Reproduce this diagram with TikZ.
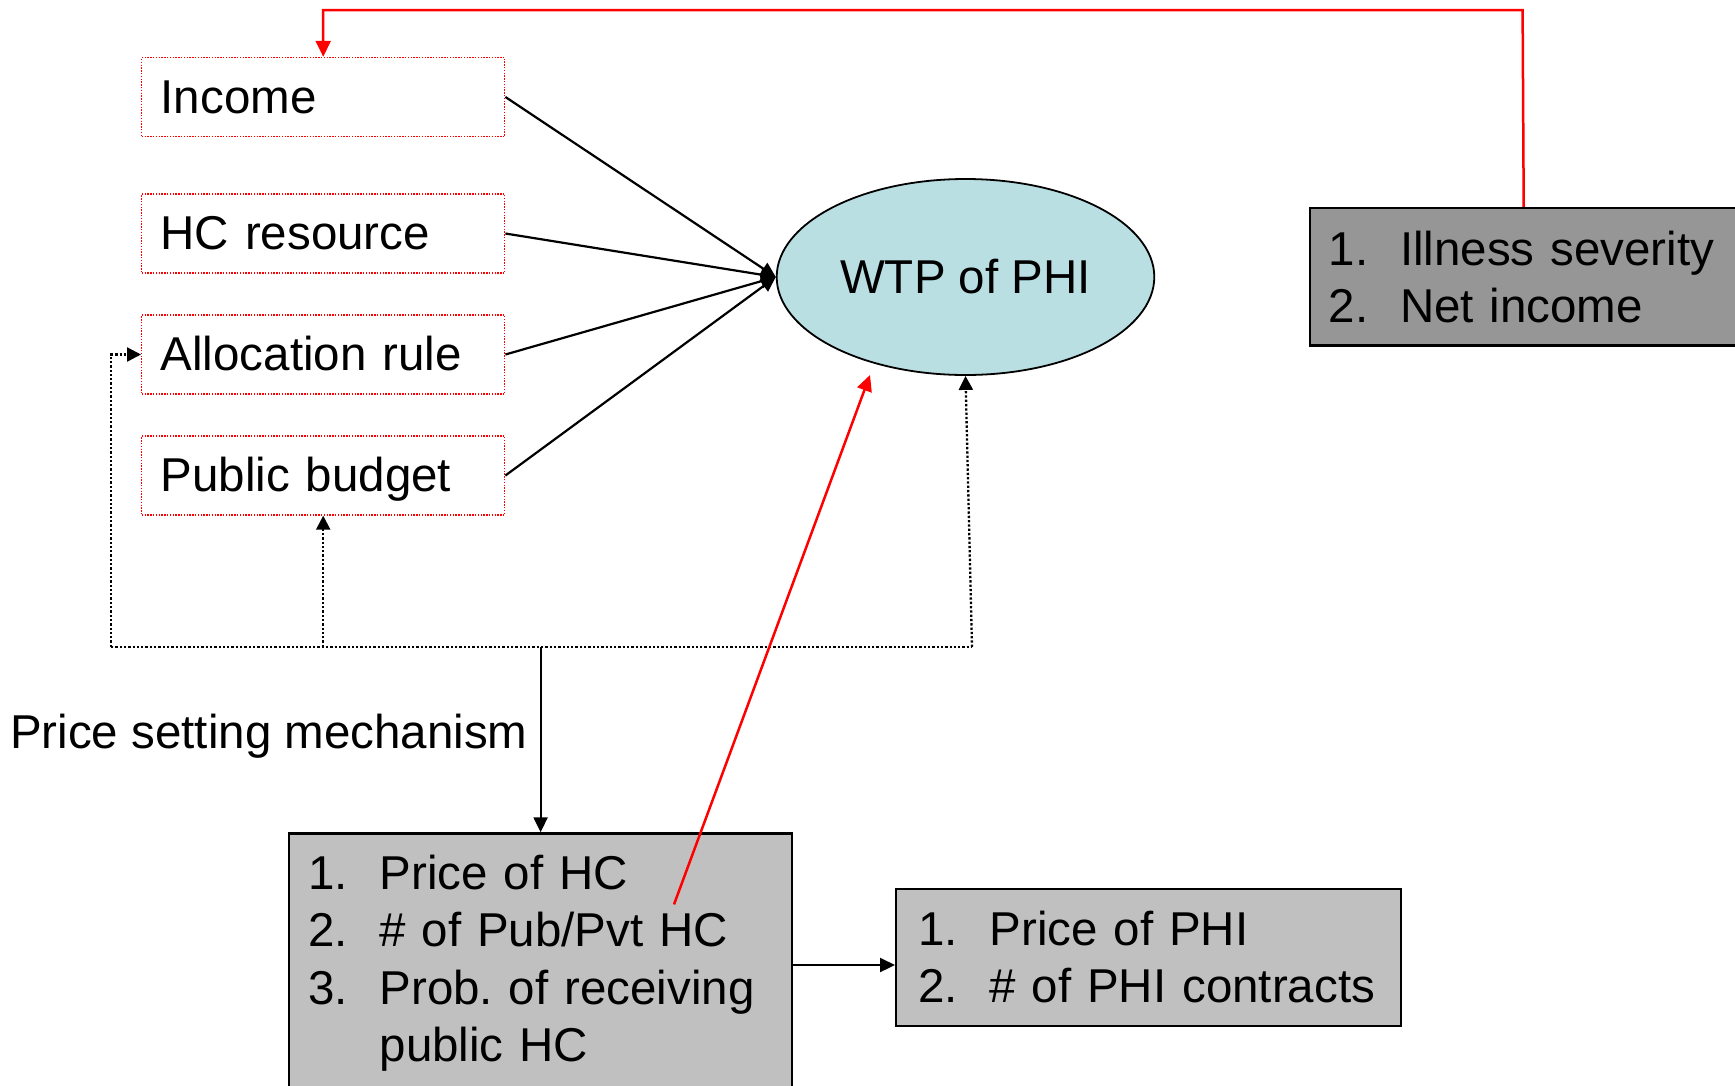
\documentclass[tikz,border=0pt]{standalone}
\usepackage{fontspec}
\setmainfont{Liberation Sans}
\usetikzlibrary{arrows.meta,shapes.geometric}
\definecolor{wtpblue}{RGB}{185,223,227}
\definecolor{boxlight}{RGB}{192,192,192}
\definecolor{boxdark}{RGB}{150,150,150}
% numbered list line: fixed-width number column, then the item, kept unbroken
\newcommand{\li}[2]{\mbox{\makebox[71.5pt][l]{#1}#2}}

\begin{document}
\frenchspacing
\begin{tikzpicture}[x=1pt,y=-1pt,
  every node/.style={font=\fontsize{47.5}{57.5}\selectfont},
  factor/.style={draw=red, line width=1.4pt, dash pattern=on 1.4pt off 1.4pt,
    fill=white, anchor=base west, inner xsep=19pt, inner ysep=0pt,
    text width=325pt, align=left, text height=55.5pt, text depth=23.5pt},
  listbox/.style={draw=black, line width=2.2pt, anchor=base west,
    inner ysep=0pt, align=left},
  arr/.style={draw=black, line width=2.2pt, -{Triangle[length=15pt,width=14pt]}},
  dotarr/.style={draw=black, line width=2.3pt, dash pattern=on 2.3pt off 2pt,
    -{Triangle[length=14pt,width=14pt]}},
  dotline/.style={draw=black, line width=2.3pt, dash pattern=on 2.3pt off 2pt},
  redarr/.style={draw=red, line width=2.5pt, -{Triangle[length=16pt,width=15pt]}},
]
\useasboundingbox (0,0) rectangle (1735,1085);
\clip (0,0) rectangle (1735,1085);

% determinants of willingness to pay
\node[factor] (income) at (141,113) {Income};
\node[factor] (hcres)  at (141,249.5) {HC resource};
\node[factor] (alloc)  at (141,370.5) {Allocation rule};
\node[factor] (budget) at (141,491.5) {Public budget};

\node[ellipse, draw=black, line width=1.8pt, fill=wtpblue,
  minimum width=377.6pt, minimum height=196pt, inner sep=0pt]
  (wtp) at (965.5,277) {WTP of PHI};

\node[listbox, fill=boxdark, inner xsep=18.5pt, text width=390.2pt,
  text height=57pt, text depth=80.5pt] (ill) at (1309,265)
  {\li{1.}{Illness severity}\\ \li{2.}{Net income}};

\node[anchor=base west, inner sep=0pt] (psm) at (10,748.5) {Price setting mechanism};

\node[listbox, fill=boxlight, inner xsep=19pt, text width=465pt,
  text height=55.6pt, text depth=211pt] (hc) at (288,889)
  {\li{1.}{Price of HC}\\ \li{2.}{\# of Pub/Pvt HC}\\
   \li{3.}{Prob. of receiving}\\ \li{}{public HC}};

\node[listbox, fill=boxlight, inner xsep=22pt, text width=461pt,
  text height=55.7pt, text depth=81pt] (phi) at (895,945)
  {\li{1.}{Price of PHI}\\ \li{2.}{\# of PHI contracts}};

% factors feeding the WTP
\draw[arr] (income.east) -- (wtp.west);
\draw[arr] (hcres.east) -- (wtp.west);
\draw[arr] (alloc.east) -- (wtp.west);
\draw[arr] (budget.east) -- (wtp.west);

% feedback from illness severity / net income to income
\coordinate (redtop) at (1522.6,10);
\draw[redarr] (ill.north) -- (redtop) -| (income.north);

% dotted distribution line from the price setting mechanism
\coordinate (dl) at (111,647);
\coordinate (dr) at (972,647);
\draw[dotline] (dl) -- (dr);
\draw[dotarr] (dl) |- (alloc.west);
\draw[dotarr] (budget.south |- dl) -- (budget.south);
\draw[dotarr] (dr) -- (wtp.south);
\draw[arr] (hc.north |- dl) -- (hc.north);

% health care supply to WTP and to the PHI market
\coordinate (redsrc) at (674,904.4);
\coordinate (redtip) at (870,375);
\draw[redarr] (redsrc) -- (redtip);
\coordinate (phiin) at (895,965);
\draw[arr] (hc.east |- phiin) -- (phiin);
\end{tikzpicture}
\end{document}
